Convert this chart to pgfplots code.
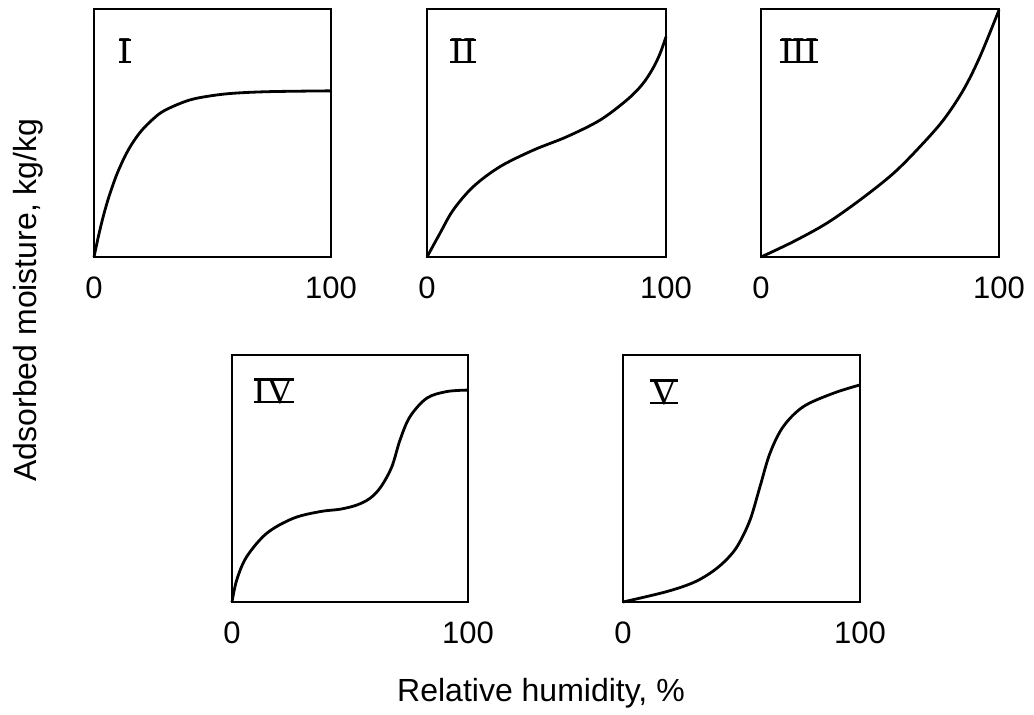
\documentclass[border=0pt]{standalone}
\usepackage{fontspec}
\setmainfont{Liberation Sans}
\newfontfamily\romanfont{Liberation Serif}
\usepackage{pgfplots}
\pgfplotsset{compat=1.18}

\newsavebox\rnbox
\newcommand\rn[1]{\sbox\rnbox{\romanfont\fontsize{19}{22}\selectfont #1}%
 \makebox[\wd\rnbox][l]{\rlap{\usebox\rnbox}\rlap{\rule{\wd\rnbox}{1.3pt}}\rule[\dimexpr\ht\rnbox-1.3pt\relax]{\wd\rnbox}{1.3pt}}}

\pgfplotsset{
  panel/.style={
    scale only axis, width=118.5pt, height=124pt,
    xmin=0, xmax=100, ymin=0, ymax=100,
    xtick={0,100}, xticklabels={0,100}, ytick=\empty,
    major tick length=0pt,
    axis line style={line width=1.1pt, black},
    tick label style={font=\fontsize{15.5}{18}\selectfont},
    xticklabel style={anchor=base, yshift=-20.5pt},
    clip=false,
  },
  curve/.style={black, line width=1.4pt, smooth, tension=0.55, no marks},
}

\begin{document}
\begin{tikzpicture}
\useasboundingbox (0,0) rectangle (517pt,357pt);

% Panel I
\begin{axis}[panel, at={(47pt,228.5pt)}, anchor=south west]
\addplot[curve] coordinates {(0,0) (2,8.9) (4,16.7) (6,23.4) (8,29.1) (10,34.2) (13,40.5) (16,45.6) (20,50.9) (25,55.7) (30,59.2) (40,63.2) (50,65.1) (60,66.1) (75,66.7) (100,67.0)};
\node at (rel axis cs:0,1) [xshift=15.5pt, yshift=-21pt] {\rn{I}};
\end{axis}

% Panel II
\begin{axis}[panel, width=119.5pt, at={(213.5pt,228.5pt)}, anchor=south west]
\addplot[curve] coordinates {(0,0) (5.4,9.5) (11,19) (19.4,28.4) (30.5,36.4) (44.5,43.1) (58.5,48.5) (72.4,55.2) (83.6,63.3) (90,69.5) (94.5,76) (97.5,82) (100,88.8)};
\node at (rel axis cs:0,1) [xshift=18pt, yshift=-21pt] {\rn{II}};
\end{axis}

% Panel III
\begin{axis}[panel, width=119pt, at={(380.5pt,228.5pt)}, anchor=south west]
\addplot[curve] coordinates {(0,0) (13.6,6.2) (27.6,13.6) (41.6,23.0) (55.6,33.7) (66.8,44.5) (76.6,55.2) (85,67.3) (92,80.8) (100,99.6)};
\node at (rel axis cs:0,1) [xshift=19pt, yshift=-21pt] {\rn{III}};
\end{axis}

% Panel IV
\begin{axis}[panel, width=118pt, height=123.5pt, at={(116pt,56pt)}, anchor=south west]
\addplot[curve] coordinates {(0,0) (2,8.9) (6.2,18.3) (14.7,27.8) (26,33.9) (37.3,36.6) (46,37.6) (53,39.3) (58.5,42) (63,46.5) (67.7,54.7) (71.2,65.6) (75.4,75) (82.5,82.5) (91,85.2) (100,85.8)};
\node at (rel axis cs:0,1) [xshift=21pt, yshift=-18pt] {\rn{IV}};
\end{axis}

% Panel V
\begin{axis}[panel, height=123.5pt, at={(311.5pt,56pt)}, anchor=south west]
\addplot[curve] coordinates {(0,0) (18.4,4.2) (30,8) (38,12.5) (44,17.5) (48.5,23) (53.6,33.2) (57.8,46.7) (62,60.2) (67.6,71) (76.1,79.1) (88.7,84.5) (100,87.9)};
\node at (rel axis cs:0,1) [xshift=20.5pt, yshift=-18.5pt] {\rn{V}};
\end{axis}

\node[rotate=90, font=\fontsize{16}{19}\selectfont] at (14pt,207pt) {Adsorbed moisture, kg/kg};
\node[anchor=base, font=\fontsize{16}{19}\selectfont] at (270.5pt,6.5pt) {Relative humidity, \%};
\end{tikzpicture}
\end{document}
